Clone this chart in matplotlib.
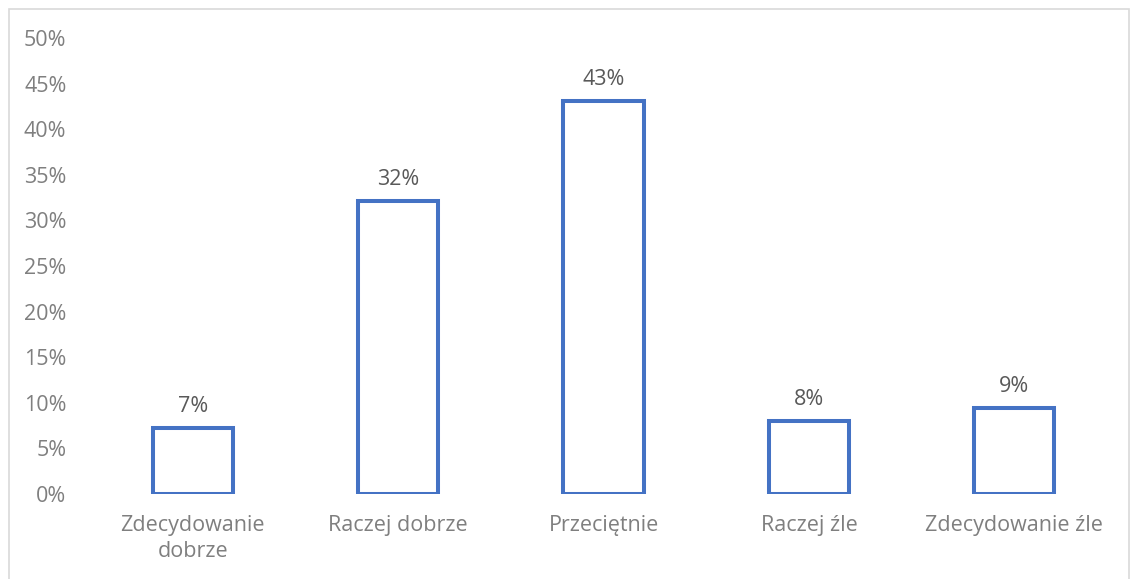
import matplotlib.pyplot as plt
from matplotlib.patches import Rectangle

categories = ['Zdecydowanie\ndobrze', 'Raczej dobrze', 'Przeciętnie', 'Raczej źle', 'Zdecydowanie źle']
values = [7.2, 32.1, 43.1, 8.0, 9.4]
labels = ['7%', '32%', '43%', '8%', '9%']
yticks = list(range(0, 51, 5))

plt.rcParams['font.family'] = ['Open Sans', 'DejaVu Sans']

fig = plt.figure(figsize=(11.34, 5.79), dpi=100)
ax = fig.add_axes([0.0794, 0.1468, 0.9056, 0.7876])

x = range(len(categories))
bars = ax.bar(x, values, width=0.39, facecolor='white', edgecolor='#4472C4', linewidth=2.9)

for b, lab in zip(bars, labels):
    ax.annotate(lab, (b.get_x() + b.get_width() / 2, b.get_height()),
                xytext=(0, 8), textcoords='offset points',
                ha='center', va='bottom', fontsize=15.5, color='#595959')

ax.set_xlim(-0.5, len(categories) - 0.5)
ax.set_ylim(0, 50)
ax.set_yticks(yticks)
ax.set_yticklabels([f'{t}%' for t in yticks])
ax.set_xticks(list(x))
ax.set_xticklabels(categories, linespacing=1.3)
ax.tick_params(axis='both', length=0, labelsize=15.5, labelcolor='#7f7f7f')
ax.tick_params(axis='y', pad=17)
ax.tick_params(axis='x', pad=15)
for s in ax.spines.values():
    s.set_visible(False)

fig.patches.append(Rectangle((0.008, -0.1), 0.988, 1.084, transform=fig.transFigure,
                             fill=False, edgecolor='#d9d9d9', linewidth=1.2))

fig.savefig('out.png', dpi=100)
